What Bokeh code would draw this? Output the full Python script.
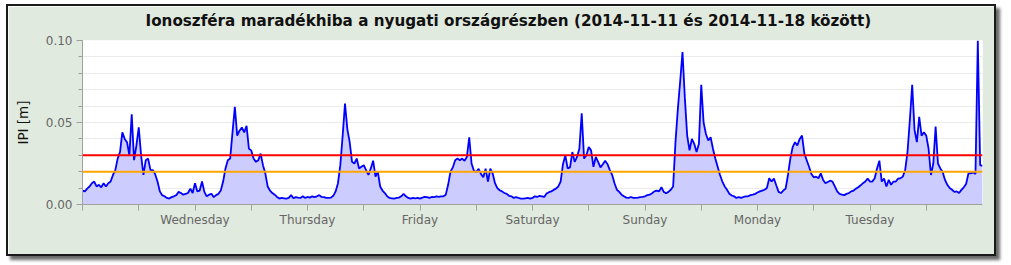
import numpy as np
from bokeh.plotting import figure
from bokeh.models import (Span, FixedTicker, SingleIntervalTicker, Range1d,
                          ColumnDataSource, PrintfTickFormatter)
from bokeh.embed import file_html
from bokeh.resources import INLINE

TITLE = "Ionoszféra maradékhiba a nyugati országrészben (2014-11-11 és 2014-11-18 között)"
Y_LABEL = "IPI [m]"
STEP_H = 0.5  # sampling step in hours, start 2014-11-11 00:00

tue11 = [0.0085, 0.008, 0.0097, 0.011, 0.013, 0.014, 0.011, 0.012, 0.0105, 0.013, 0.011, 0.013,
         0.014, 0.018, 0.021, 0.028, 0.032, 0.044, 0.040, 0.038, 0.030, 0.055, 0.027, 0.036,
         0.047, 0.030, 0.018, 0.027, 0.028, 0.021, 0.021, 0.0185, 0.014, 0.008, 0.0057, 0.005,
         0.004, 0.0036, 0.0045, 0.005, 0.0057, 0.0077, 0.007, 0.006, 0.0065, 0.007, 0.0097, 0.007]
wed12 = [0.013, 0.008, 0.0085, 0.014, 0.0077, 0.005, 0.006, 0.0065, 0.0045, 0.0057, 0.0065, 0.0085,
         0.014, 0.022, 0.027, 0.028, 0.044, 0.0596, 0.042, 0.045, 0.047, 0.044, 0.048, 0.034,
         0.033, 0.028, 0.026, 0.027, 0.031, 0.024, 0.019, 0.011, 0.0085, 0.007, 0.006, 0.0046,
         0.0036, 0.004, 0.0038, 0.0036, 0.004, 0.0057, 0.0038, 0.0045, 0.0042, 0.004, 0.005, 0.004]
thu13 = [0.0046, 0.0042, 0.005, 0.0045, 0.005, 0.0057, 0.0046, 0.0045, 0.004, 0.004, 0.0042, 0.0053,
         0.008, 0.013, 0.024, 0.042, 0.0616, 0.046, 0.038, 0.026, 0.025, 0.028, 0.022, 0.023,
         0.024, 0.021, 0.018, 0.022, 0.0267, 0.017, 0.020, 0.011, 0.0085, 0.007, 0.005, 0.004,
         0.0038, 0.0036, 0.004, 0.0042, 0.005, 0.0065, 0.005, 0.004, 0.0036, 0.004, 0.0038, 0.004]
fri14 = [0.0036, 0.0042, 0.0046, 0.0045, 0.004, 0.0046, 0.0045, 0.005, 0.0046, 0.005, 0.005, 0.006,
         0.012, 0.020, 0.0226, 0.027, 0.028, 0.027, 0.028, 0.0267, 0.029, 0.041, 0.025, 0.0206,
         0.0198, 0.0218, 0.0186, 0.0166, 0.0218, 0.014, 0.0218, 0.019, 0.013, 0.010, 0.0087, 0.008,
         0.007, 0.0065, 0.0053, 0.005, 0.004, 0.0045, 0.004, 0.0036, 0.0036, 0.0038, 0.004, 0.0036]
sat15 = [0.004, 0.005, 0.0046, 0.0053, 0.005, 0.0046, 0.0067, 0.0075, 0.008, 0.0089, 0.0097, 0.011,
         0.014, 0.0246, 0.030, 0.022, 0.0226, 0.032, 0.026, 0.029, 0.034, 0.0556, 0.028, 0.030,
         0.035, 0.033, 0.023, 0.029, 0.026, 0.0226, 0.0246, 0.0267, 0.0246, 0.021, 0.018, 0.013,
         0.009, 0.0077, 0.006, 0.005, 0.0042, 0.004, 0.0046, 0.004, 0.004, 0.0042, 0.0045, 0.0046]
sun16 = [0.005, 0.0057, 0.006, 0.0069, 0.008, 0.0085, 0.008, 0.0105, 0.0077, 0.0069, 0.0077, 0.009,
         0.011, 0.038, 0.058, 0.075, 0.093, 0.065, 0.042, 0.033, 0.040, 0.037, 0.032, 0.037,
         0.073, 0.050, 0.043, 0.039, 0.041, 0.034, 0.028, 0.023, 0.018, 0.014, 0.011, 0.009,
         0.0065, 0.0055, 0.005, 0.004, 0.0045, 0.004, 0.0046, 0.005, 0.005, 0.0057, 0.006, 0.0065]
mon17 = [0.0073, 0.008, 0.0085, 0.009, 0.010, 0.016, 0.014, 0.0158, 0.0117, 0.0077, 0.007, 0.0085,
         0.0097, 0.018, 0.028, 0.035, 0.038, 0.036, 0.040, 0.042, 0.031, 0.027, 0.023, 0.0186,
         0.0166, 0.017, 0.016, 0.019, 0.015, 0.013, 0.0137, 0.0145, 0.014, 0.011, 0.008, 0.0065,
         0.006, 0.0057, 0.0065, 0.007, 0.008, 0.0085, 0.0097, 0.0105, 0.0117, 0.013, 0.014, 0.0158]
tue18 = [0.014, 0.014, 0.016, 0.022, 0.0267, 0.014, 0.0158, 0.011, 0.015, 0.012, 0.014, 0.014,
         0.0158, 0.016, 0.017, 0.021, 0.032, 0.0515, 0.073, 0.0455, 0.038, 0.0535, 0.042, 0.044,
         0.042, 0.034, 0.018, 0.025, 0.0475, 0.025, 0.022, 0.0198, 0.015, 0.012, 0.010, 0.009,
         0.0077, 0.008, 0.007, 0.0089, 0.0105, 0.0125, 0.019, 0.019, 0.0196, 0.0186, 0.100, 0.024,
         0.0236]

RED_LIMIT = 0.03
ORANGE_LIMIT = 0.02

X_TICKS = [0, 12, 24, 36, 48, 60, 72, 84, 96, 108, 120, 132, 144, 156, 168, 180]
DAY_LABELS = {24: "Wednesday", 48: "Thursday", 72: "Friday", 96: "Saturday",
              120: "Sunday", 144: "Monday", 168: "Tuesday"}

values = tue11 + wed12 + thu13 + fri14 + sat15 + sun16 + mon17 + tue18
hours = np.arange(len(values)) * STEP_H
src = ColumnDataSource(data=dict(h=hours, v=values))

p = figure(width=990, height=252, output_backend="svg", toolbar_location=None,
           x_range=Range1d(0, 192), y_range=Range1d(0, 0.10),
           min_border_left=74, min_border_right=16, min_border_top=34, min_border_bottom=54,
           background_fill_color="white", border_fill_color="#e1eadf",
           outline_line_color=None, margin=(4, 0, 0, 6),
           styles={"border": "2px solid #1a1a1a", "box-shadow": "4px 4px 3px #6a6a6a"})

p.title.text = TITLE
p.title.text_font = "DejaVu Sans"
p.title.text_font_style = "bold"
p.title.text_font_size = "15.2px"
p.title.text_color = "#111111"
p.title.align = "left"
p.title.offset = 63
p.title.standoff = 0
p.title.vertical_align = "bottom"
p.title.padding = {"top": 0, "bottom": 11, "left": 0, "right": 0}

p.varea(x="h", y1=0, y2="v", source=src, fill_color="#ccccff")
p.line(x="h", y="v", source=src, line_color="#0000ff", line_width=1.8)

p.add_layout(Span(location=RED_LIMIT, dimension="width", line_color="#ff0000", line_width=2))
p.add_layout(Span(location=ORANGE_LIMIT, dimension="width", line_color="#ffa500", line_width=2))

# y axis
yt = SingleIntervalTicker(interval=0.05, num_minor_ticks=5)
p.yaxis.ticker = yt
p.yaxis.formatter = PrintfTickFormatter(format="%.2f")
p.yaxis.axis_label = Y_LABEL
p.yaxis.axis_label_text_font = "DejaVu Sans"
p.yaxis.axis_label_text_font_size = "13.5px"
p.yaxis.axis_label_text_font_style = "normal"
p.yaxis.axis_label_text_color = "#111111"
p.yaxis.axis_label_standoff = 12
p.ygrid.ticker = yt
p.ygrid.grid_line_color = "#ececec"
p.ygrid.minor_grid_line_color = "#ececec"
p.xgrid.grid_line_color = None

# x axis
p.xaxis.ticker = FixedTicker(ticks=X_TICKS)
p.xaxis.major_label_overrides = {t: DAY_LABELS.get(t, "") for t in X_TICKS}

for ax in (p.xaxis, p.yaxis):
    ax.axis_line_color = "#a0a0a0"
    ax.major_tick_line_color = "#a0a0a0"
    ax.minor_tick_line_color = "#a0a0a0"
    ax.major_tick_in = 0
    ax.major_tick_out = 6
    ax.minor_tick_in = 0
    ax.minor_tick_out = 4
    ax.major_label_text_font = "DejaVu Sans"
    ax.major_label_text_font_size = "12px"
    ax.major_label_text_color = "#666666"
p.yaxis.major_label_standoff = 4
p.xaxis.major_label_standoff = 2

open("out.html", "w").write(file_html(p, INLINE))
